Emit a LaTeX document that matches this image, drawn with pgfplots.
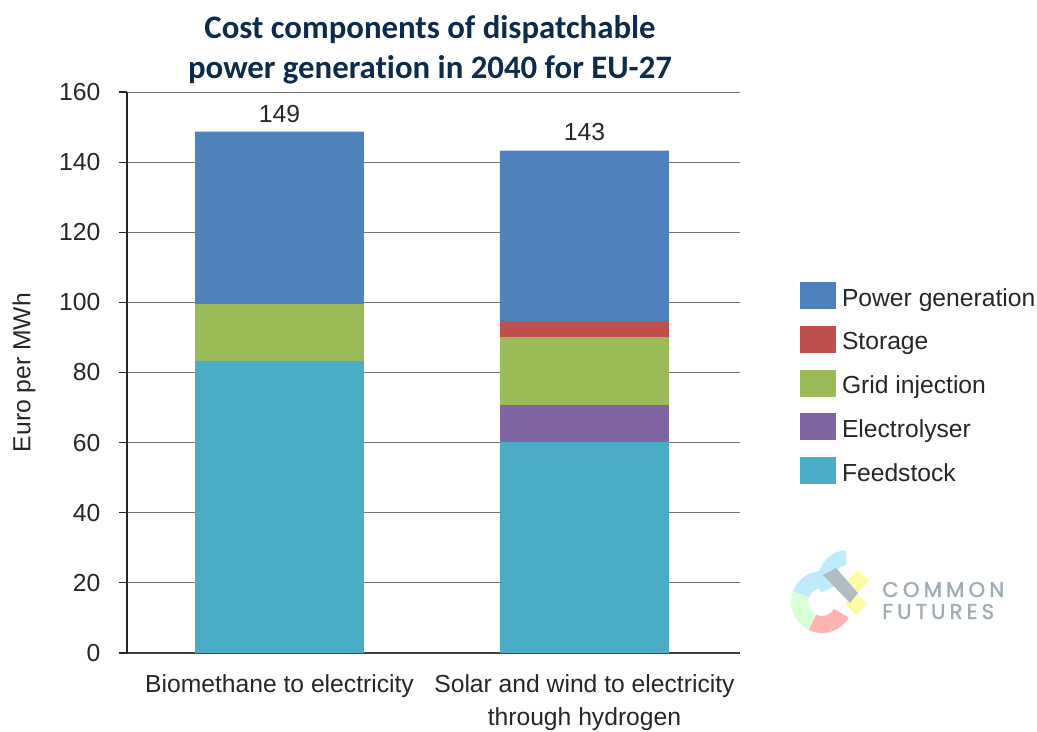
\documentclass[border=0pt]{standalone}
\usepackage{fontspec}
\setmainfont{Liberation Sans}
\newfontfamily\titlefont[Ligatures=NoCommon]{Carlito}
\newfontfamily\logofont[FakeBold=1.5]{Poppins}
\usepackage{pgfplots}
\pgfplotsset{compat=1.18}
\definecolor{cPow}{HTML}{4F81BD}
\definecolor{cSto}{HTML}{C0504D}
\definecolor{cGrid}{HTML}{9BBB59}
\definecolor{cEle}{HTML}{8064A2}
\definecolor{cFeed}{HTML}{4BACC6}
\definecolor{cTitle}{HTML}{0D2B4A}
\definecolor{cLogo}{HTML}{9FACB4}
\newcommand{\mainfs}{\fontsize{18.5}{24.75}\selectfont}
\begin{document}
\begin{tikzpicture}
\begin{axis}[
  at={(0,0)}, anchor=south west,
  scale only axis, width=459.75pt, height=420.75pt,
  ybar stacked, bar width=0.554,
  xmin=-0.5, xmax=1.51, ymin=0, ymax=160,
  xtick={0,1},
  xticklabels={Biomethane to electricity,{Solar and wind to electricity\\through hydrogen}},
  xticklabel style={align=center, font=\mainfs, yshift=-6.4pt, text=black!85},
  ytick={0,20,...,160},
  yticklabel style={font=\mainfs, xshift=-10.5pt, text=black!85},
  /pgf/number format/assume math mode=true,
  axis x line*=bottom, axis y line*=left,
  x axis line style={draw=black!75, line width=1.1pt},
  y axis line style={draw=black!85, line width=0.9pt},
  major x tick style={draw=none},
  major y tick style={draw=black!85, line width=0.9pt},
  tick align=outside, major tick length=6pt,
  ymajorgrids, grid style={draw=black!55, line width=0.7pt},
  ylabel={Euro per MWh},
  every axis y label/.style={at={(axis description cs:-0.168,0.5)}, rotate=90, anchor=center, font=\mainfs, text=black!85},
  reverse legend,
  legend cell align=left,
  legend style={at={(1.098,0.6613)}, anchor=north west, draw=none, fill=none,
    font=\mainfs, row sep=11.4pt, inner sep=0pt,
    nodes={inner sep=2pt, text=black!85}},
  legend image code/.code={\fill[#1] (0pt,-8.25pt) rectangle (27pt,12pt); \path (29.25pt,0pt);},
]
\addplot[fill=cFeed, draw=none] coordinates {(0,83.3) (1,60.2)};
\addlegendentry{Feedstock}
\addplot[fill=cEle, draw=none] coordinates {(0,0) (1,10.5)};
\addlegendentry{Electrolyser}
\addplot[fill=cGrid, draw=none] coordinates {(0,16.2) (1,19.4)};
\addlegendentry{Grid injection}
\addplot[fill=cSto, draw=none] coordinates {(0,0) (1,4.6)};
\addlegendentry{Storage}
\addplot[fill=cPow, draw=none] coordinates {(0,49.2) (1,48.6)};
\addlegendentry{Power generation}
\node[anchor=base, font=\mainfs, text=black!85, inner sep=0pt] at (axis cs:0,148.7) [yshift=6.75pt] {149};
\node[anchor=base, font=\mainfs, text=black!85, inner sep=0pt] at (axis cs:1,143.3) [yshift=7.5pt] {143};
\end{axis}
\begin{scope}[x=0.75pt, y=-0.75pt, xshift=-95.25pt, yshift=489.75pt]
  % title
  \node[anchor=base, inner sep=0pt, font=\titlefont\bfseries\fontsize{24.6}{28}\selectfont, text=cTitle] at (430,39) {Cost components of dispatchable};
  \node[anchor=base, inner sep=0pt, font=\titlefont\bfseries\fontsize{24.6}{28}\selectfont, text=cTitle] at (430,79) {power generation in 2040 for EU-27};
  % logo (angles negated because the y axis points down here)
  \fill[cyan!25!white] (822,602) ++(-80:31) arc[start angle=-80, end angle=-160, radius=31] -- ++(-160:-17) arc[start angle=-160, end angle=-80, radius=14] -- cycle;
  \fill[green!15!white] (822,602) ++(-160:31) arc[start angle=-160, end angle=-245, radius=31] -- ++(-245:-17) arc[start angle=-245, end angle=-160, radius=14] -- cycle;
  \fill[red!30!white] (822,602) ++(-245:31) arc[start angle=-245, end angle=-330, radius=31] -- ++(-330:-17) arc[start angle=-330, end angle=-245, radius=14] -- cycle;
  \fill[cyan!25!white] (848,580) ++(-95:30) arc[start angle=-95, end angle=-205, radius=30] -- ++(-205:-15) arc[start angle=-205, end angle=-95, radius=15] -- cycle;
  \fill[yellow!35!white] (858,570) -- (869,581) -- (858,592) -- (847,581) -- cycle;
  \fill[yellow!35!white] (856,593) -- (867,604) -- (856,615) -- (845,604) -- cycle;
  \fill[cLogo!80!white] (823,575) -- (836,568) -- (858,593) -- (850,603) -- cycle;
  \node[anchor=base west, inner sep=0pt, font=\logofont\fontsize{16}{18}\selectfont\addfontfeatures{LetterSpace=19}, text=cLogo] at (882,597) {COMMON};
  \node[anchor=base west, inner sep=0pt, font=\logofont\fontsize{16}{18}\selectfont\addfontfeatures{LetterSpace=19}, text=cLogo] at (882,619) {FUTURES};
  \pgfresetboundingbox
  \path[use as bounding box] (0,0) rectangle (1037,731);
\end{scope}
\end{tikzpicture}
\end{document}
